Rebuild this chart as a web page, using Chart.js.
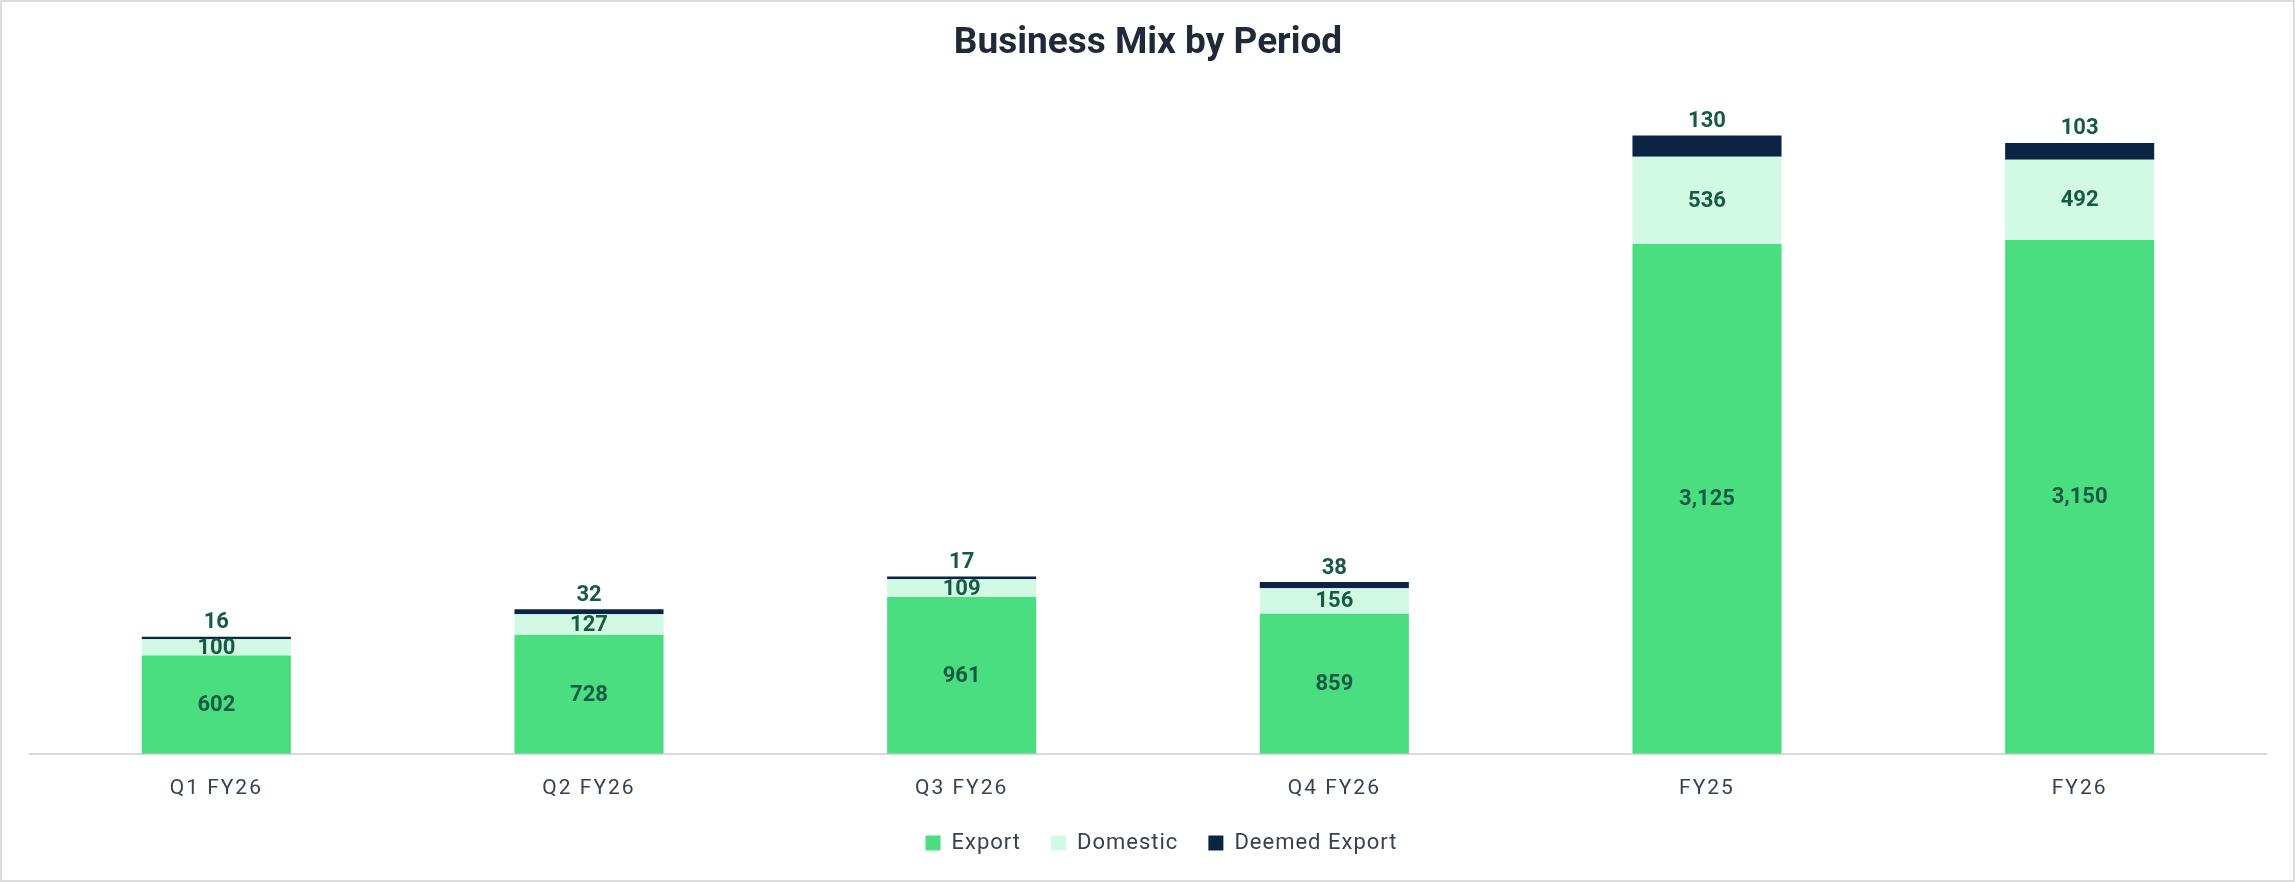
<!DOCTYPE html>
<html>
<head>
<meta charset="utf-8">
<script src="https://cdn.jsdelivr.net/npm/chart.js@4.4.1/dist/chart.umd.min.js"></script>
<style>
  html, body { margin: 0; padding: 0; background: #fff; }
  #wrap { width: 2295px; height: 882px; box-sizing: border-box; border: 2px solid #dcdcdc; background: #fff; }
  #wrap canvas { display: block; }
</style>
</head>
<body>
<div id="wrap"><canvas id="mixChart" width="2291" height="878"></canvas></div>
<script>
const periods = ['Q1 FY26', 'Q2 FY26', 'Q3 FY26', 'Q4 FY26', 'FY25', 'FY26'];
const exportVals = [602, 728, 961, 859, 3125, 3150];
const domesticVals = [100, 127, 109, 156, 536, 492];
const deemedVals = [16, 32, 17, 38, 130, 103];

const labelColor = '#155b43';
const labelFont = 'bold 22px Roboto, "Noto Sans", sans-serif';

// value labels: centred for Export/Domestic, above the stack for Deemed Export
const valueLabels = {
    id: 'valueLabels',
    afterDatasetsDraw(chart) {
        const ctx = chart.ctx;
        ctx.save();
        ctx.font = labelFont;
        ctx.fillStyle = labelColor;
        ctx.textAlign = 'center';
        chart.data.datasets.forEach((ds, i) => {
            const meta = chart.getDatasetMeta(i);
            meta.data.forEach((bar, j) => {
                const txt = ds.data[j].toLocaleString('en-US');
                if (i === 2) {
                    ctx.textBaseline = 'bottom';
                    ctx.fillText(txt, bar.x, bar.y - 3);
                } else {
                    ctx.textBaseline = 'middle';
                    ctx.fillText(txt, bar.x, (bar.y + bar.base) / 2 + 1);
                }
            });
        });
        ctx.restore();
    }
};

// the tick labels and legend text are letter-spaced in the original
function spaced(obj, method, spacing) {
    const orig = obj[method];
    obj[method] = function (...args) {
        const c = this.ctx;
        c.save();
        c.letterSpacing = spacing;
        orig.apply(this, args);
        c.restore();
    };
}
const letterSpacing = {
    id: 'letterSpacing',
    afterLayout(chart) {
        const sc = chart.scales.x;
        if (!sc._spaced) { spaced(sc, 'drawLabels', '2px'); sc._spaced = true; }
        if (!chart.legend._spaced) { spaced(chart.legend, 'draw', '1px'); chart.legend._spaced = true; }
    }
};

const ctx = document.getElementById('mixChart').getContext('2d');
const mixChart = new Chart(ctx, {
    type: 'bar',
    data: {
        labels: periods,
        datasets: [
            { label: 'Export', data: exportVals, backgroundColor: '#4ade80' },
            { label: 'Domestic', data: domesticVals, backgroundColor: '#d1f9e4' },
            { label: 'Deemed Export', data: deemedVals, backgroundColor: '#0c2444' }
        ]
    },
    options: {
        responsive: false,
        animation: false,
        datasets: {
            bar: { categoryPercentage: 0.8, barPercentage: 0.5 }
        },
        layout: {
            padding: { left: 28, right: 27, top: 20, bottom: 16 }
        },
        scales: {
            x: {
                stacked: true,
                grid: { display: false, drawTicks: false },
                border: { display: true, color: '#d9d9d9', width: 2 },
                ticks: {
                    color: '#374151',
                    padding: 22,
                    font: { family: 'Roboto, "Noto Sans", sans-serif', size: 21 }
                },
                afterFit(scale) { scale.height -= 21; }
            },
            y: {
                stacked: true,
                display: false,
                min: 0,
                max: 4000
            }
        },
        plugins: {
            title: {
                display: true,
                text: 'Business Mix by Period',
                color: '#1f2937',
                font: { family: 'Roboto, "Noto Sans", sans-serif', size: 37, weight: 'bold' },
                padding: { top: 0, bottom: 35 }
            },
            legend: {
                position: 'bottom',
                labels: {
                    color: '#374151',
                    boxWidth: 15,
                    boxHeight: 15,
                    padding: 30,
                    font: { family: 'Roboto, "Noto Sans", sans-serif', size: 22 }
                }
            },
            tooltip: { enabled: false }
        }
    },
    plugins: [valueLabels, letterSpacing]
});
</script>
</body>
</html>
